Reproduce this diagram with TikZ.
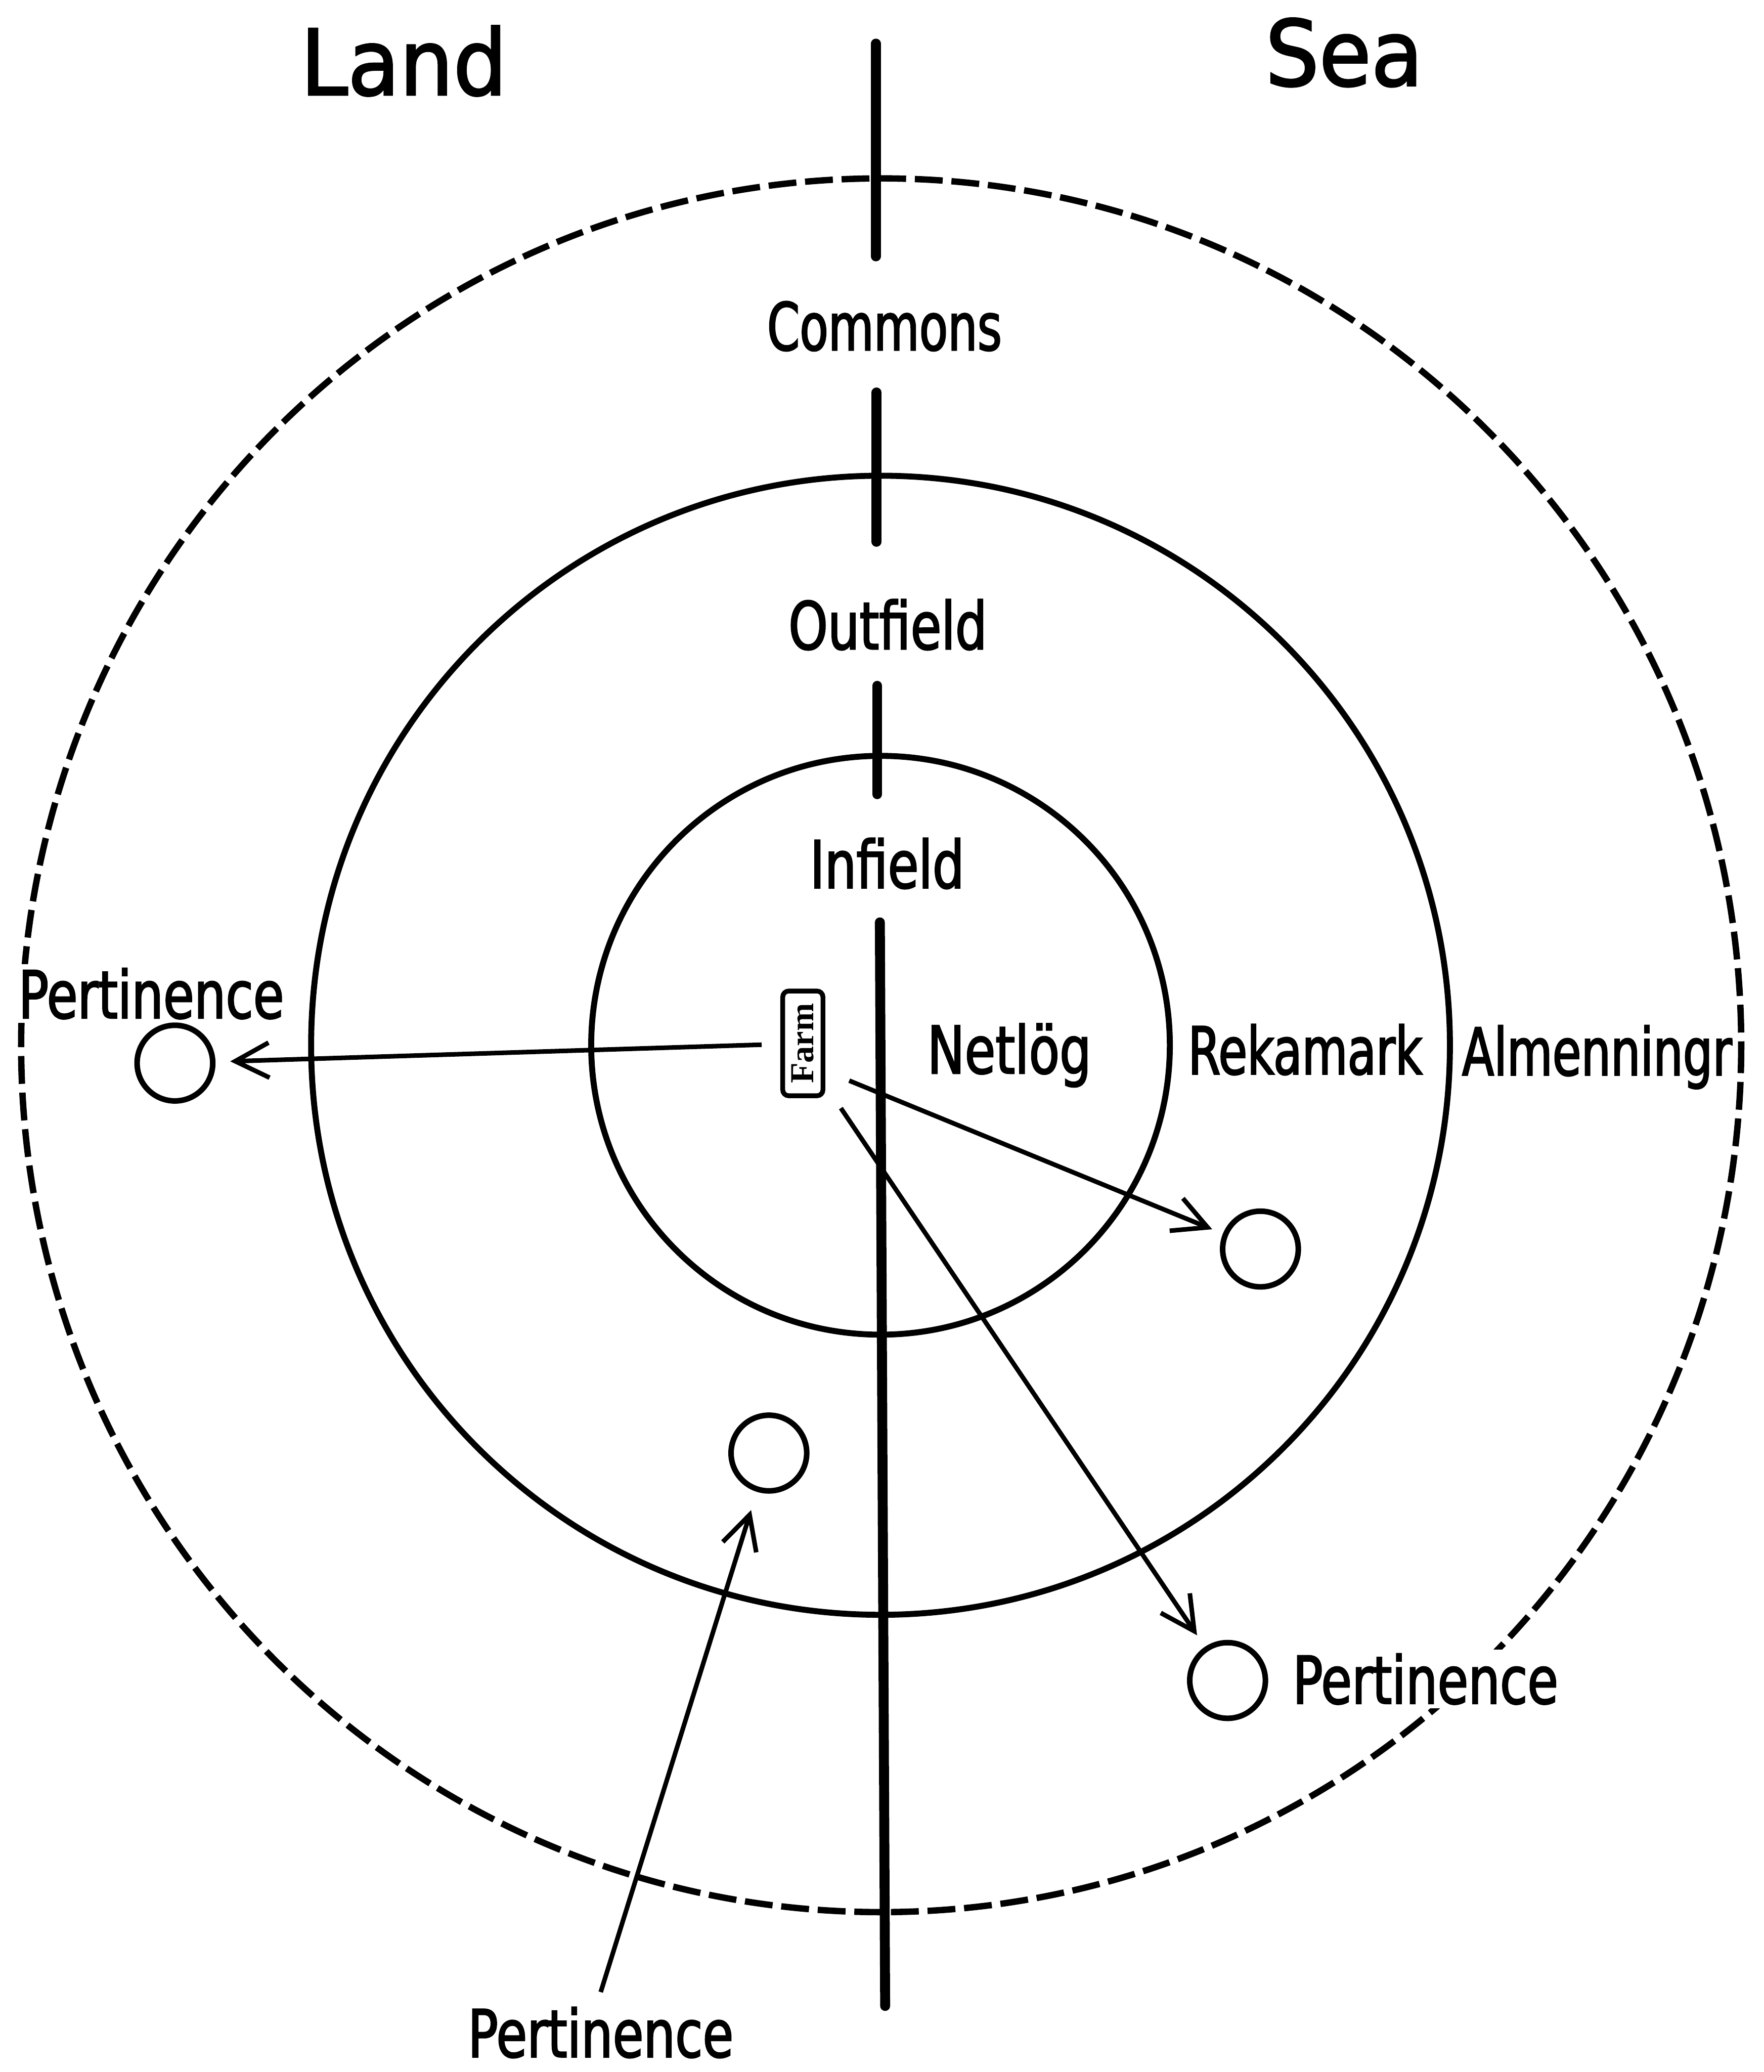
\documentclass[tikz,border=0pt]{standalone}
\usepackage{fontspec}
\usepackage{graphicx}
\setmainfont{DejaVu Sans}
\newfontfamily\lblfont[FakeStretch=0.76, FakeBold=2]{DejaVu Sans}
\newfontfamily\lblnarrow[FakeStretch=0.71, FakeBold=2]{DejaVu Sans}
\newfontfamily\headfont[FakeStretch=0.93, FakeBold=2]{DejaVu Sans}
\newfontfamily\farmfont{Liberation Serif}
\usepackage{tikz}
\usetikzlibrary{arrows.meta}
\tikzset{
  zone/.style={line width=1.5mm},
  boundary/.style={line width=1.6mm, dash pattern=on 7mm off 2.2mm},
  divide/.style={line width=2.5mm, line cap=round},
  arealabel/.style={font=\lblfont\fontsize{47}{50}\selectfont, inner sep=0pt, anchor=base},
  narrowlabel/.style={arealabel, font=\lblnarrow\fontsize{47}{50}\selectfont},
  sidelabel/.style={font=\headfont\fontsize{65}{70}\selectfont, inner sep=0pt, anchor=base},
  spot/.style={draw, circle, line width=1.4mm, minimum size=19mm, inner sep=0pt},
  farmbox/.style={draw, rounded corners=1.5mm, line width=1.2mm, minimum width=10.1mm, minimum height=26.3mm, inner sep=0pt, font=\farmfont\bfseries\fontsize{24}{26}\selectfont},
  arrow/.style={-{Straight Barb[length=8.5mm, width=8.8mm]}, line width=1.15mm}
}
\begin{document}
\begin{tikzpicture}[x=0.3318mm, y=-0.3318mm]
  \useasboundingbox (0,0) rectangle (1335,1568);
  \coordinate (c) at (666.5,791);
  \draw[boundary] (667,791) ellipse[x radius=651, y radius=656];
  \draw[zone] (c) circle[radius=431];
  \draw[zone] (c) circle[radius=219];
  \draw[divide] (663,33) -- (663,194);
  \draw[divide] (663.5,297) -- (663.5,410);
  \draw[divide] (664,519) -- (664,601);
  \draw[divide] (666,698) -- (670,1518);
  \node[sidelabel] (land) at (305.7,71.8) {Land};
  \node[sidelabel] (sea) at (1017.5,64.8) {Sea};
  \node[narrowlabel] (commons) at (669.5,265) {Commons};
  \node[arealabel] (outfield) at (672,491.3) {Outfield};
  \node[arealabel] (infield) at (671.5,672) {Infield};
  \node[arealabel] (netlog) at (764,812.3) {Netlög};
  \node[narrowlabel] (rekamark) at (988,812.9) {Rekamark};
  \node[narrowlabel] (almenning) at (1208.8,813.7) {Almenningr};
  \node[arealabel, fill=white, inner sep=1mm] (pertL) at (114.5,770.5) {Pertinence};
  \node[arealabel, fill=white, inner sep=1mm] (pertR) at (1079,1289.2) {Pertinence};
  \node[arealabel] (pertB) at (454.7,1556.7) {Pertinence};
  \node[spot] (pL) at (132.4,804.5) {};
  \node[spot] (pR) at (954.1,945.2) {};
  \node[spot] (pB) at (582,1099.6) {};
  \node[spot] (pBR) at (929.2,1271.7) {};
  \node[farmbox] (farm) at (607.7,789.6) {\rotatebox{90}{Farm}};
  \draw[arrow, shorten <=4.7mm, shorten >=3.7mm] (farm) -- (pL);
  \draw[arrow, shorten >=2.9mm] ([xshift=6mm, yshift=4.4mm]farm.south east) -- (pR);
  \draw[arrow, shorten >=3.5mm] ([xshift=3.9mm, yshift=-2.5mm]farm.south east) -- (pBR);
  \draw[arrow, shorten >=4.8mm] ([yshift=3.7mm]pertB.north) -- (pB);
\end{tikzpicture}
\end{document}
